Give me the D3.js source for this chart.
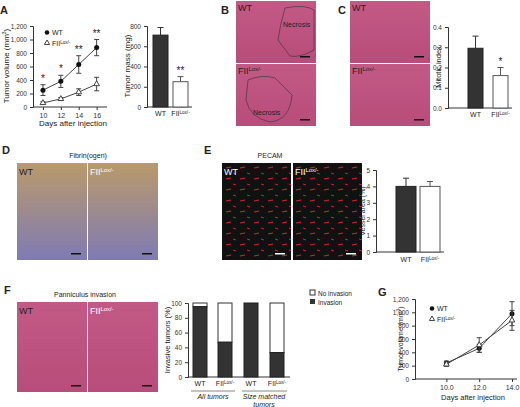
<!DOCTYPE html>
<html><head><meta charset="utf-8">
<script src="https://cdn.jsdelivr.net/npm/d3@7"></script>
<style>body{margin:0;background:#fff}text{font-family:Arial,"Liberation Sans",sans-serif;fill:#222}</style>
</head><body>
<svg id="fig" width="520" height="407"></svg>
<script>
// panel A
var daysA = [10, 12, 14, 16];
var volWT = [250, 380, 630, 880], volWTerr = [80, 90, 130, 120];
var volFII = [60, 120, 220, 340], volFIIerr = [20, 20, 50, 100];
var starsA = ['*', '*', '**', '**'];
var massVals = [710, 250], massErr = [75, 50];
// panel C
var mitoVals = [0.295, 0.16], mitoErr = [0.06, 0.04];
// panel E
var vesselVals = [4.0, 4.0], vesselErr = [0.5, 0.3];
// panel F
var invCats = ['WT1', 'FII1', 'WT2', 'FII2'];
var invasion = [95, 47, 100, 33];
// panel G
var daysG = [10, 12, 14];
var gWT = [240, 460, 980], gWTerr = [30, 60, 180];
var gFII = [220, 510, 880], gFIIerr = [30, 110, 150];
var genotypes = ['WT', 'FII'];

var svg = d3.select('#fig');
var defs = svg.append('defs');

function grad(id, c1, c2){
	var g = defs.append('linearGradient').attr('id', id).attr('x1',0).attr('y1',0).attr('x2',0).attr('y2',1);
	g.append('stop').attr('offset','0%').attr('stop-color',c1);
	g.append('stop').attr('offset','100%').attr('stop-color',c2);
}
grad('he', '#c25a86', '#b84c7a');
grad('fib', '#b99a6a', '#7f7bb4');
var pat = defs.append('pattern').attr('id','pecam').attr('width',14).attr('height',11).attr('patternUnits','userSpaceOnUse');
pat.append('rect').attr('width',14).attr('height',11).attr('fill','#111');
pat.append('line').attr('x1',2).attr('y1',3).attr('x2',7).attr('y2',2).attr('stroke','#c8262a').attr('stroke-width',1.2);
pat.append('line').attr('x1',9).attr('y1',8).attr('x2',12).attr('y2',9).attr('stroke','#c8262a').attr('stroke-width',1);

function label(x, y, t, size, opts){
	opts = opts || {};
	var el = svg.append('text').attr('x', x).attr('y', y).attr('font-size', size || 8)
		.attr('text-anchor', opts.anchor || 'start').text(t);
	if (opts.bold) el.attr('font-weight', 'bold');
	if (opts.italic) el.attr('font-style', 'italic');
	if (opts.fill) el.style('fill', opts.fill);
	if (opts.rot) el.attr('transform', 'rotate(-90,' + x + ',' + y + ')');
	return el;
}
function fii(x, y, size, anchor, fill){
	var t = label(x, y, 'FII', size, {anchor: anchor, fill: fill});
	t.append('tspan').attr('dy', -size*0.35).attr('font-size', size*0.65).text('Lox/-');
	return t;
}
function img(x, y, w, h, fill){
	svg.append('rect').attr('x', x).attr('y', y).attr('width', w).attr('height', h).attr('fill', fill);
	svg.append('rect').attr('x', x+w-16).attr('y', y+h-7).attr('width', 10).attr('height', 1.5).attr('fill', fill == 'url(#pecam)' ? '#fff' : '#111');
}
function yAxis(g, y, ticks, fmt){
	g.call(d3.axisLeft(y).tickValues(ticks).tickSize(3).tickFormat(fmt))
		.call(function(a){ a.selectAll('text').attr('font-size', 6.5).style('fill','#333'); a.selectAll('path,line').attr('stroke','#333'); });
}
function barChart(ax, y0, y1, max, ticks, fmt, vals, errs, xs, w, labY, stars){
	var y = d3.scaleLinear().domain([0, max]).range([y0, y1]);
	var g = svg.append('g').attr('transform', 'translate(' + ax + ',0)');
	yAxis(g, y, ticks, fmt);
	svg.append('line').attr('x1', ax).attr('x2', xs[1] + w + 4).attr('y1', y0).attr('y2', y0).attr('stroke', '#333');
	vals.forEach(function(v, i){
		var cx = xs[i] + w/2;
		svg.append('line').attr('x1', cx).attr('x2', cx).attr('y1', y(v)).attr('y2', y(v + errs[i])).attr('stroke', i ? '#555' : '#333');
		svg.append('line').attr('x1', cx-3).attr('x2', cx+3).attr('y1', y(v + errs[i])).attr('y2', y(v + errs[i])).attr('stroke', i ? '#555' : '#333');
		svg.append('rect').attr('x', xs[i]).attr('y', y(v)).attr('width', w).attr('height', y0 - y(v))
			.attr('fill', i ? '#fff' : '#333').attr('stroke', i ? '#555' : '#222');
		if (stars && stars[i]) label(cx, y(v + errs[i]) - 3, stars[i], 10, {anchor: 'middle'});
	});
	label(xs[0] + w/2, labY, 'WT', 7, {anchor: 'middle'});
	fii(xs[1] + w/2, labY, 7, 'middle');
}
function lineChart(ax, y0, y1, max, xd, xr, days, series, stars){
	var x = d3.scaleLinear().domain(xd).range(xr);
	var y = d3.scaleLinear().domain([0, max]).range([y0, y1]);
	var g = svg.append('g').attr('transform', 'translate(' + ax + ',0)');
	yAxis(g, y, d3.range(0, max + 1, 200), d3.format(','));
	var gx = svg.append('g').attr('transform', 'translate(0,' + y0 + ')');
	gx.call(d3.axisBottom(x).tickValues(days).tickSize(3))
		.call(function(a){ a.select('.domain').attr('d', 'M' + ax + ',0H' + (xr[1] + 5)); a.selectAll('text').attr('font-size', 7).style('fill','#333'); a.selectAll('path,line').attr('stroke','#333'); });
	series.forEach(function(s){
		var line = d3.line().x(function(d, i){ return x(days[i]); }).y(function(d){ return y(d); });
		svg.append('path').attr('d', line(s.v)).attr('fill', 'none').attr('stroke', '#444');
		s.v.forEach(function(v, i){
			var cx = x(days[i]);
			svg.append('line').attr('x1', cx).attr('x2', cx).attr('y1', y(v - s.e[i])).attr('y2', y(v + s.e[i])).attr('stroke', '#444');
			[v - s.e[i], v + s.e[i]].forEach(function(e){
				svg.append('line').attr('x1', cx-2.5).attr('x2', cx+2.5).attr('y1', y(e)).attr('y2', y(e)).attr('stroke', '#444');
			});
			if (s.filled) svg.append('circle').attr('cx', cx).attr('cy', y(v)).attr('r', 2.5).attr('fill', '#111');
			else svg.append('path').attr('d', d3.symbol(d3.symbolTriangle, 14)()).attr('transform', 'translate(' + cx + ',' + y(v) + ')').attr('fill', '#fff').attr('stroke', '#444');
			if (stars && s.filled) label(cx, y(v + s.e[i]) - 3, stars[i], 10, {anchor: 'middle'});
		});
	});
}
function legendLine(x, y){
	svg.append('circle').attr('cx', x).attr('cy', y - 2.5).attr('r', 2.3).attr('fill', '#111');
	label(x + 5, y, 'WT', 7);
	svg.append('path').attr('d', d3.symbol(d3.symbolTriangle, 12)()).attr('transform', 'translate(' + x + ',' + (y + 8) + ')').attr('fill', '#fff').attr('stroke', '#444');
	fii(x + 5, y + 11, 7);
}

// A
label(0, 14, 'A', 11, {bold: true});
lineChart(33, 107, 26, 1200, [9, 16.6], [34, 102], daysA,
	[{v: volWT, e: volWTerr, filled: true}, {v: volFII, e: volFIIerr, filled: false}], starsA);
legendLine(47, 35);
label(73, 126, 'Days after injection', 8, {anchor: 'middle'});
var ty = label(9, 66, 'Tumor volume (mm', 8, {anchor: 'middle', rot: true});
ty.append('tspan').attr('dy', -3).attr('font-size', 5).text('3'); ty.append('tspan').attr('dy', 3).text(')');
barChart(147, 107, 26, 800, [0, 200, 400, 600, 800], d3.format('d'), massVals, massErr, [153, 173], 15, 116, ['', '**']);
label(130, 66, 'Tumor mass (mg)', 8, {anchor: 'middle', rot: true});

// B
label(221, 14, 'B', 11, {bold: true});
img(236, 1, 80, 62, 'url(#he)'); img(236, 64, 80, 62, 'url(#he)');
svg.append('path').attr('d', 'M285,8 Q305,4 314,10 L314,50 Q300,58 290,56 L278,40 Q280,25 285,8Z').attr('fill', 'none').attr('stroke', '#333').attr('stroke-width', 0.6);
svg.append('path').attr('d', 'M248,80 Q262,74 275,78 L292,95 Q290,120 270,122 Q250,118 246,100Z').attr('fill', 'none').attr('stroke', '#333').attr('stroke-width', 0.6);
label(238, 11, 'WT', 9, {fill: '#222'}); fii(238, 74, 9, 'start', '#222');
label(283, 27, 'Necrosis', 7); label(253, 115, 'Necrosis', 7);

// C
label(338, 14, 'C', 11, {bold: true});
img(350, 1, 80, 62, 'url(#he)'); img(350, 64, 80, 62, 'url(#he)');
label(352, 11, 'WT', 9); fii(352, 74, 9);
barChart(448, 108, 27, 0.4, [0, 0.1, 0.2, 0.3, 0.4], d3.format('.1f'), mitoVals, mitoErr, [468, 493], 15, 117, ['', '*']);
label(441, 67, 'Mitotic index', 7.5, {anchor: 'middle', rot: true});

// D
label(2, 154, 'D', 11, {bold: true});
label(88, 158, 'Fibrin(ogen)', 7, {anchor: 'middle'});
img(17, 163, 70, 97, 'url(#fib)'); img(88, 163, 70, 97, 'url(#fib)');
label(19, 175, 'WT', 9); fii(90, 175, 9, 'start', '#fff');

// E
label(204, 154, 'E', 11, {bold: true});
label(270, 158, 'PECAM', 7, {anchor: 'middle'});
img(222, 163, 69, 97, 'url(#pecam)'); img(293, 163, 69, 97, 'url(#pecam)');
label(224, 175, 'WT', 9, {fill: '#fff'}); fii(295, 175, 9, 'start', '#fff');
barChart(376, 252, 170, 5, [0, 1, 2, 3, 4, 5], d3.format('d'), vesselVals, vesselErr, [396, 420], 20, 262);
label(365, 211, 'Vessel area (%)', 7, {anchor: 'middle', rot: true});

// F
label(4, 294, 'F', 11, {bold: true});
label(85, 297, 'Panniculus invasion', 7, {anchor: 'middle'});
img(17, 302, 70, 90, 'url(#he)'); img(88, 302, 70, 90, 'url(#he)');
label(19, 314, 'WT', 9); fii(90, 314, 9, 'start', '#fff');
var yF = d3.scaleLinear().domain([0, 100]).range([377, 303]);
var xF = d3.scaleOrdinal().domain(invCats).range([193, 218, 244, 270]);
yAxis(svg.append('g').attr('transform', 'translate(188,0)'), yF, d3.range(0, 101, 20), d3.format('d'));
svg.append('line').attr('x1', 188).attr('x2', 290).attr('y1', 377).attr('y2', 377).attr('stroke', '#333');
invCats.forEach(function(c, i){
	svg.append('rect').attr('x', xF(c)).attr('y', yF(100)).attr('width', 14).attr('height', yF(invasion[i]) - yF(100)).attr('fill', '#fff').attr('stroke', '#333');
	svg.append('rect').attr('x', xF(c)).attr('y', yF(invasion[i])).attr('width', 14).attr('height', 377 - yF(invasion[i])).attr('fill', '#333').attr('stroke', '#222');
	if (i % 2) fii(xF(c) + 7, 386, 7, 'middle'); else label(xF(c) + 7, 386, 'WT', 7, {anchor: 'middle'});
});
svg.append('line').attr('x1', 191).attr('x2', 235).attr('y1', 391).attr('y2', 391).attr('stroke', '#333').attr('stroke-width', 0.6);
svg.append('line').attr('x1', 242).attr('x2', 287).attr('y1', 391).attr('y2', 391).attr('stroke', '#333').attr('stroke-width', 0.6);
label(213, 399, 'All tumors', 7, {anchor: 'middle', italic: true});
label(264, 399, 'Size matched', 7, {anchor: 'middle', italic: true});
label(264, 407, 'tumors', 7, {anchor: 'middle', italic: true});
label(170, 340, 'Invasive tumors (%)', 7.5, {anchor: 'middle', rot: true});
svg.append('rect').attr('x', 310).attr('y', 290).attr('width', 5).attr('height', 5).attr('fill', '#fff').attr('stroke', '#333');
label(318, 296, 'No invasion', 6.5);
svg.append('rect').attr('x', 310).attr('y', 299).attr('width', 5).attr('height', 5).attr('fill', '#333');
label(318, 305, 'Invasion', 6.5);

// G
label(378, 296, 'G', 11, {bold: true});
lineChart(415, 379, 299, 1200, [9, 14], [430, 512], daysG,
	[{v: gWT, e: gWTerr, filled: true}, {v: gFII, e: gFIIerr, filled: false}]);
legendLine(432, 311);
label(473, 400, 'Days after injection', 7.5, {anchor: 'middle'});
var tg = label(403, 339, 'Tumor volume (mm', 7, {anchor: 'middle', rot: true});
tg.append('tspan').attr('dy', -3).attr('font-size', 4.5).text('3'); tg.append('tspan').attr('dy', 3).text(')');
</script>
</body></html>
